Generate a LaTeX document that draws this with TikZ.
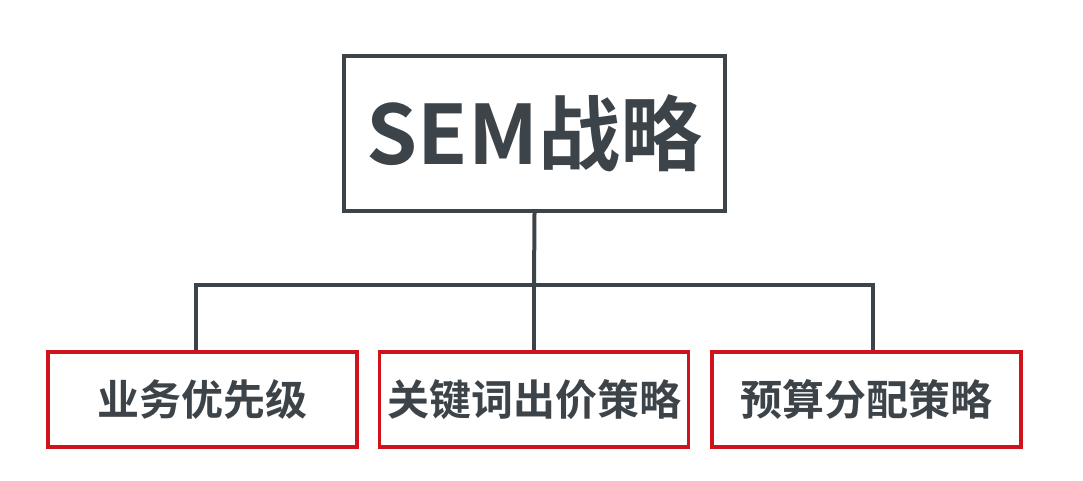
\documentclass[tikz,border=0pt]{standalone}
\usepackage{fontspec}
\setmainfont{Noto Sans CJK SC Bold}
\definecolor{dg}{HTML}{3D4449}
\definecolor{rd}{HTML}{D0121B}
\begin{document}
\begin{tikzpicture}[x=1pt,y=-1pt,
  top/.style={draw=dg,line width=4pt,minimum width=381pt,minimum height=155pt,inner sep=0pt,text=dg,font=\fontsize{82}{90}\selectfont},
  sub/.style={draw=rd,line width=3.5pt,minimum width=309pt,minimum height=95pt,inner sep=0pt,text=dg,font=\fontsize{42}{48}\selectfont},
  conn/.style={draw=dg,line width=4pt}]
\useasboundingbox (0,0) rectangle (1083,481);
\node[top] (t) at (534.5,133.5) {SEM战略};
\node[sub] (a) at (202.5,399.5) {业务优先级};
\node[sub] (b) at (534,399.5) {关键词出价策略};
\node[sub] (c) at (866.5,399.5) {预算分配策略};
\coordinate (m) at (534,285);
\coordinate (l) at (196,285);
\coordinate (r) at (873,285);
\draw[conn] (t.south) -- (m);
\draw[conn] (l |- a.north) -- (l) -- (r) -- (r |- c.north);
\draw[conn] (m) -- (b.north);
\end{tikzpicture}
\end{document}
